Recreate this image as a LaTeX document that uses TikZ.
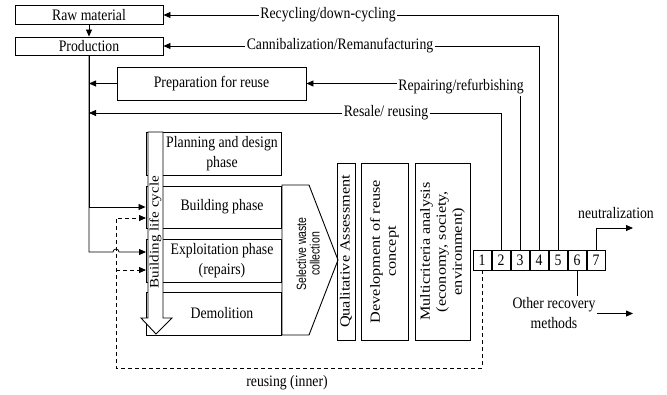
\documentclass[tikz,border=0pt]{standalone}
\usepackage{fontspec}
\setmainfont{Liberation Serif}
\newfontfamily\hfont[FakeStretch=0.86]{Liberation Serif}
\newfontfamily\vfont[FakeStretch=1.16]{Liberation Serif}
\newfontfamily\vsans[FakeStretch=0.78]{Liberation Sans}
\usetikzlibrary{arrows.meta}

\tikzset{
  every box/.style={draw, line width=0.9pt, inner sep=1pt},
  hbox/.style={every box, font=\hfont\fontsize{16}{20}\selectfont, align=center},
  vbox/.style={every box, rotate=90, font=\vfont\fontsize{14}{16}\selectfont, align=center},
  phase/.style={every box, minimum width=135pt},
  lbl/.style={font=\hfont\fontsize{16}{20}\selectfont, inner sep=1pt, align=center},
  num/.style={hbox, minimum width=18pt, minimum height=20pt, inner sep=0pt},
}

\begin{document}
\begin{tikzpicture}[x=1pt, y=-1pt, line width=0.8pt, >={Triangle[length=7pt,width=6pt]}]
  \useasboundingbox (0,0) rectangle (667,394);

  % sources
  \node [hbox, minimum width=148pt, minimum height=19pt] (raw) at (89,15) {Raw material};
  \node [hbox, minimum width=148pt, minimum height=18pt] (prod) at (89,46) {Production};
  \node [hbox, minimum width=189pt, minimum height=33pt] (prep) at (211.5,83.5) {Preparation for reuse};

  % loop labels
  \node [lbl] (rec) at (328,15) {Recycling/down-cycling};
  \node [lbl] (can) at (340,46) {Cannibalization/Remanufacturing};
  \node [lbl] (rep) at (461,87) {Repairing/refurbishing};
  \node [lbl] (res) at (386,113) {Resale/ reusing};

  % life cycle phases
  \foreach \y/\h [count=\i] in {153.5/43, 207/42, 260.5/43, 313.5/43}
    \node [phase, minimum height=\h pt] (ph-\i) at (213.5,\y) {};
  \foreach \t [count=\i] in {{Planning and design\\phase}, {Building phase}, {Exploitation phase\\(repairs)}, {Demolition}}
    \node [lbl, xshift=8.5pt] (ph-\i-txt) at (ph-\i) {\t};

  \draw [fill=white, line width=0.9pt] (148,132) -- (163,132) -- (163,318) -- (172,318)
    -- (156,334) -- (141,318) -- (148,318) -- cycle;
  \node [rotate=90, font=\vfont\fontsize{13}{15}\selectfont, inner sep=0pt] (life) at (155.5,232) {Building life cycle};

  % collection and assessment
  \draw [fill=white, line width=0.9pt] (282,185) -- (309,185) -- (338,260) -- (309,335) -- (282,335) -- cycle;
  \node [rotate=90, align=center, font=\vsans\fontsize{13.5}{13.5}\selectfont, inner sep=0pt] (sel) at (308,254) {Selective waste\\collection};

  \node [vbox, minimum width=177pt, minimum height=18pt] (qual) at (346,251.5) {Qualitative Assessment};
  \node [vbox, minimum width=177pt, minimum height=47pt] (dev) at (384.5,251.5) {Development of reuse\\concept};
  \node [vbox, minimum width=177pt, minimum height=55pt] (multi) at (442.5,251.5) {Multicriteria analysis\\(economy, society,\\environment)};

  % recovery options
  \foreach \i in {1,...,7}
    \node [num] (box-\i) at ({482+19*(\i-1)},260) {\i};

  \node [lbl] (neu) at (616,213) {neutralization};
  \node [lbl] (oth) at (554,313.5) {Other recovery\\methods};
  \node [lbl] (inner) at (287,383) {reusing (inner)};

  \coordinate (neu-end) at (633,228);
  \coordinate (oth-end) at (633,313.5);
  \coordinate (hop-l) at (113,252);
  \coordinate (in-e) at (146,252);
  \coordinate (in-bd) at (146,218);
  \coordinate (in-ed) at (146,270);
  \coordinate (dash-b) at (116,368);

  % loops back
  \draw [->] (raw) -- (prod);
  \draw [->] (rec) -- (raw);
  \draw (rec) -| (box-5);
  \draw [->] (can) -- (prod);
  \draw (can) -| (box-4);
  \draw [->] (rep.west |- prep.east) -- (prep.east);
  \draw (box-3.north) -- (box-3.north |- rep.south);
  \draw [->] (prep.west) -- (prep.west -| prod.south);
  \draw [->] (res.west) -- (res.west -| prod.south);
  \draw (res) -| (box-2);

  % into the life cycle
  \draw [->] (prod.south) |- (ph-2.west);
  \draw [->] (prod.south) |- (hop-l) arc [start angle=180, end angle=0, radius=3pt] -- (in-e);
  \draw [dashed, dash pattern=on 4pt off 3pt, ->] (box-1.south) |- (dash-b) |- (in-bd);
  \draw [dashed, dash pattern=on 4pt off 3pt, ->] (dash-b |- in-ed) -- (in-ed);

  % out
  \draw [->] (box-7.north) |- (neu-end);
  \draw (box-6.south) -- (box-6.south |- oth.north);
  \draw [->] (oth.east |- oth-end) -- (oth-end);

\end{tikzpicture}
\end{document}
